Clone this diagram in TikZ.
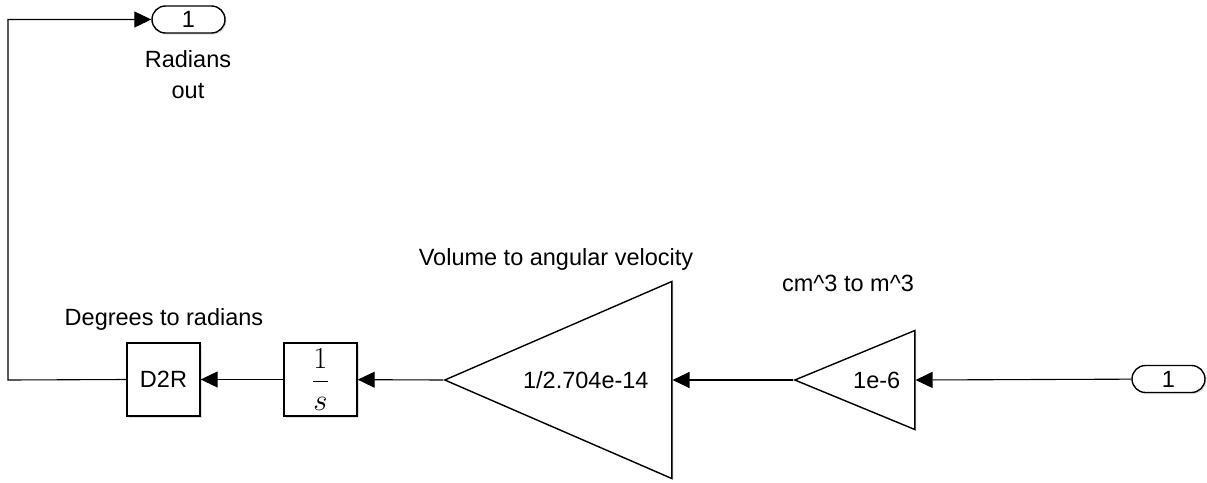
\RequirePackage{fix-cm}
\documentclass[tikz,border=0pt]{standalone}
\usepackage{fontspec}
\setmainfont{Liberation Sans}
\usetikzlibrary{arrows.meta,shapes.geometric,shapes.misc,shadows}

\begin{document}
\begin{tikzpicture}[
    x=1pt, y=-1pt,
    font=\fontsize{23.5}{31}\selectfont,
    soft shadow/.style={drop shadow={opacity=0.25, shadow xshift=1.5pt, shadow yshift=-1.5pt}},
    block/.style={rectangle, draw, line width=1.4pt, fill=white, minimum width=73pt, minimum height=73pt, soft shadow},
    gain/.style={isosceles triangle, isosceles triangle stretches, shape border rotate=180, draw, line width=1.4pt, fill=white, inner sep=0pt, soft shadow},
    port/.style={rounded rectangle, draw, line width=1.4pt, fill=white, minimum width=73pt, minimum height=27pt, inner sep=0pt, soft shadow},
    blocklabel/.style={align=center},
    arrow/.style={-{Triangle[length=17pt, width=16pt]}, line width=1.1pt}
]
\useasboundingbox (0,0) rectangle (1207,482);

% Ports
\node[port] (radout) at (188.5,19.5) {1};
\node[blocklabel] (radoutlbl) at (188,75) {Radians\\out};
\node[port] (volin) at (1168.5,379) {1};

% Blocks
\node[block] (d2r) at (163.5,379.5) {D2R};
\node[blocklabel] (d2rlbl) at (164,319) {Degrees to radians};
\node[block] (integ) at (320.5,379.5) {\scalebox{1.3}{$\displaystyle\frac{1}{s}$}};

% Gains
\node[gain, minimum height=227pt, minimum width=197pt, anchor=apex] (volgain) at (443,380) {1/2.704e-14};
\node[blocklabel] (volgainlbl) at (556,259) {Volume to angular velocity};
\node[gain, minimum height=120pt, minimum width=99pt, anchor=apex] (cmgain) at (793,380) {1e-6};
\node[blocklabel] (cmgainlbl) at (848,283) {cm\^{}3 to m\^{}3};

% Signal lines
\coordinate (corner) at (8,380);
\draw[arrow] (volin) -- (cmgain.lower side);
\draw[arrow] (cmgain.apex) -- (volgain.lower side);
\draw[arrow] (volgain.apex) -- (integ);
\draw[arrow] (integ) -- (d2r);
\draw[arrow] (d2r.west) -- (corner) |- (radout.west);

\end{tikzpicture}
\end{document}
